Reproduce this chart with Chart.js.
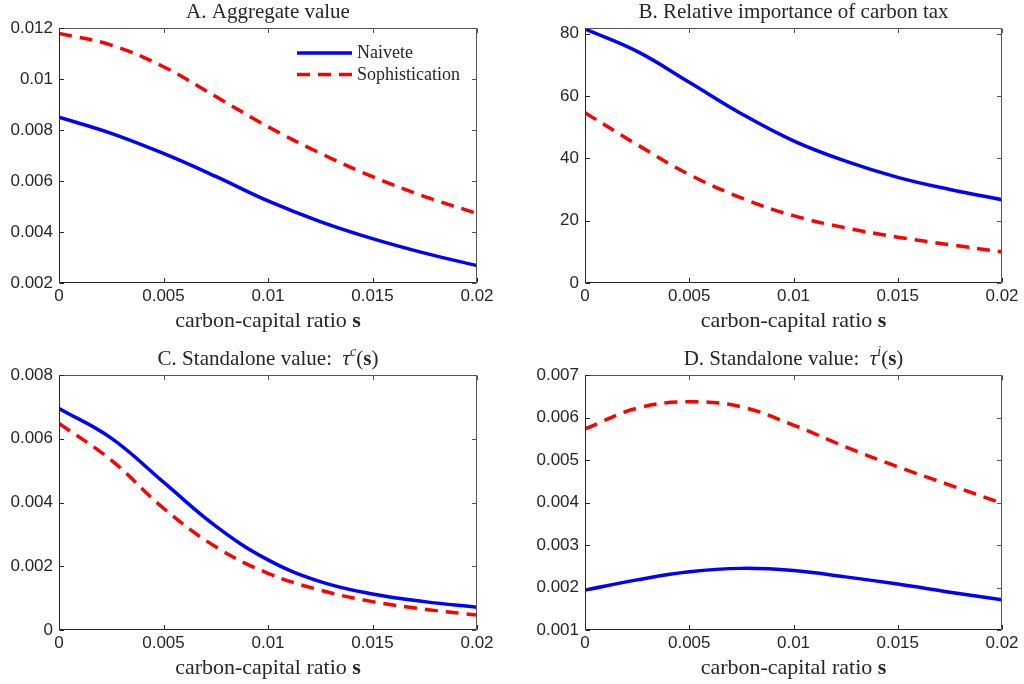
<!DOCTYPE html>
<html>
<head>
<meta charset="utf-8">
<script src="https://cdn.jsdelivr.net/npm/chart.js@4.4.1/dist/chart.umd.min.js"></script>
<style>
  html, body { margin: 0; padding: 0; background: #fff; }
  #wrap { position: relative; width: 1024px; height: 684px; }
  canvas { position: absolute; }
</style>
</head>
<body>
<div id="wrap">
  <canvas id="pA" width="512" height="342" style="left:0;top:0"></canvas>
  <canvas id="pB" width="512" height="342" style="left:512px;top:0"></canvas>
  <canvas id="pC" width="512" height="342" style="left:0;top:342px"></canvas>
  <canvas id="pD" width="512" height="342" style="left:512px;top:342px"></canvas>
</div>
<script>
// carbon-capital ratio s (x values of the sampled curves)
const sGrid = [0, 0.0025, 0.005, 0.0075, 0.01, 0.0125, 0.015, 0.0175, 0.02];
const seriesNames = ['Naivete', 'Sophistication'];

// A. Aggregate value
const aggNaive = [0.0085, 0.00787, 0.00708, 0.00618, 0.00522, 0.00441, 0.00374, 0.00317, 0.00268];
const aggSoph  = [0.01179, 0.01133, 0.01048, 0.00931, 0.00813, 0.00709, 0.00617, 0.00539, 0.00473];
// B. Relative importance of carbon tax
const relNaive = [81.5, 74.3, 64.4, 54.3, 45.6, 39.1, 33.9, 30.0, 26.7];
const relSoph  = [54.6, 44.4, 34.8, 27.3, 21.6, 17.7, 14.7, 12.3, 10.0];
// C. Standalone value tau^c(s)
const tcNaive = [0.00695, 0.00602, 0.00464, 0.00326, 0.0022, 0.00152, 0.00113, 0.00089, 0.00071];
const tcSoph  = [0.00648, 0.00533, 0.00382, 0.00261, 0.00178, 0.00125, 0.00089, 0.00065, 0.00047];
// D. Standalone value tau^i(s)
const tiNaive = [0.00194, 0.00218, 0.00237, 0.00245, 0.0024, 0.00225, 0.00208, 0.00189, 0.00171];
const tiSoph  = [0.00573, 0.00622, 0.00637, 0.00625, 0.00582, 0.00531, 0.00484, 0.00441, 0.00398];

const SERIF = '"Liberation Serif", "DejaVu Serif", serif';
const SANS = '"Liberation Sans", Arial, sans-serif';
const fmt = v => String(parseFloat(Number(v).toFixed(6)));

const xTitle = [
  { t: 'carbon-capital ratio ', f: '22px ' + SERIF },
  { t: 's', f: 'bold 22px ' + SERIF }
];
const texts = {
  pA: { title: [{ t: 'A. Aggregate value', f: '21px ' + SERIF }], legend: true },
  pB: { title: [{ t: 'B. Relative importance of carbon tax', f: '21px ' + SERIF }] },
  pC: { title: [
    { t: 'C. Standalone value:  ', f: '21px ' + SERIF },
    { t: 'τ', f: 'italic 21px ' + SERIF },
    { t: 'c', f: 'italic 14px ' + SERIF, dy: -9 },
    { t: '(', f: '21px ' + SERIF },
    { t: 's', f: 'bold 21px ' + SERIF },
    { t: ')', f: '21px ' + SERIF }
  ] },
  pD: { title: [
    { t: 'D. Standalone value:  ', f: '21px ' + SERIF },
    { t: 'τ', f: 'italic 21px ' + SERIF },
    { t: 'i', f: 'italic 14px ' + SERIF, dy: -9 },
    { t: '(', f: '21px ' + SERIF },
    { t: 's', f: 'bold 21px ' + SERIF },
    { t: ')', f: '21px ' + SERIF }
  ] }
};

function drawRich(ctx, segs, cx, baseY) {
  let w = 0;
  segs.forEach(s => { ctx.font = s.f; w += ctx.measureText(s.t).width; });
  let x = cx - w / 2;
  segs.forEach(s => {
    ctx.font = s.f;
    ctx.fillText(s.t, x, baseY + (s.dy || 0));
    x += ctx.measureText(s.t).width;
  });
}

// box, inward ticks, titles and legend
const frame = {
  id: 'frame',
  afterDraw(chart) {
    const { ctx, chartArea: a, scales: { x, y } } = chart;
    const cfg = texts[chart.canvas.id];
    const L = a.left + 0.5, R = a.right - 0.5, T = a.top + 0.5, B = a.bottom - 0.5;
    const tl = 4.5;
    ctx.save();
    ctx.lineWidth = 1;
    ctx.strokeStyle = '#555';
    ctx.beginPath();
    ctx.moveTo(L, T); ctx.lineTo(R, T); ctx.lineTo(R, B);
    x.ticks.forEach(t => {
      const px = Math.round(x.getPixelForValue(t.value)) + 0.5;
      ctx.moveTo(px, T); ctx.lineTo(px, T + tl);
    });
    y.ticks.forEach(t => {
      const py = Math.round(y.getPixelForValue(t.value)) + 0.5;
      ctx.moveTo(R, py); ctx.lineTo(R - tl, py);
    });
    ctx.stroke();
    ctx.strokeStyle = '#262626';
    ctx.beginPath();
    ctx.moveTo(L, T); ctx.lineTo(L, B); ctx.lineTo(R, B);
    x.ticks.forEach(t => {
      const px = Math.round(x.getPixelForValue(t.value)) + 0.5;
      ctx.moveTo(px, B); ctx.lineTo(px, B - tl);
    });
    y.ticks.forEach(t => {
      const py = Math.round(y.getPixelForValue(t.value)) + 0.5;
      ctx.moveTo(L, py); ctx.lineTo(L + tl, py);
    });
    ctx.stroke();

    ctx.fillStyle = '#262626';
    ctx.textAlign = 'left';
    ctx.textBaseline = 'alphabetic';
    const cx = (a.left + a.right) / 2;
    drawRich(ctx, cfg.title, cx, a.top - 10);
    drawRich(ctx, xTitle, cx, a.bottom + 44);

    if (cfg.legend) {
      chart.data.datasets.forEach((ds, i) => {
        const ly = a.top + 25 + i * 21.5;
        ctx.save();
        ctx.strokeStyle = ds.borderColor;
        ctx.lineWidth = ds.borderWidth;
        ctx.setLineDash(ds.borderDash || []);
        ctx.beginPath();
        ctx.moveTo(a.right - 180, ly);
        ctx.lineTo(a.right - 125, ly);
        ctx.stroke();
        ctx.restore();
        ctx.font = '18px ' + SERIF;
        ctx.fillText(ds.label, a.right - 120, ly + 5);
      });
    }
    ctx.restore();
  }
};

function makePanel(id, naive, soph, yMin, yMax, yStep, pad, yWidth, xHeight) {
  const pts = arr => sGrid.map((s, i) => ({ x: s, y: arr[i] }));
  new Chart(document.getElementById(id), {
    type: 'line',
    data: {
      datasets: [
        { label: seriesNames[0], data: pts(naive), borderColor: '#0000ff', borderWidth: 3.5 },
        { label: seriesNames[1], data: pts(soph), borderColor: '#ff0000', borderWidth: 3.5, borderDash: [13, 8] }
      ]
    },
    options: {
      responsive: false,
      animation: false,
      layout: { padding: { top: pad.top, right: pad.right, left: 0, bottom: 0 } },
      elements: {
        line: { tension: 0.4, fill: false, borderCapStyle: 'butt' },
        point: { radius: 0, hoverRadius: 0 }
      },
      plugins: { legend: { display: false }, tooltip: { enabled: false } },
      scales: {
        x: {
          type: 'linear', min: 0, max: 0.02,
          grid: { display: false, drawTicks: false },
          border: { display: false },
          ticks: { stepSize: 0.005, callback: fmt, color: '#262626', padding: 3,
                   font: { family: SANS, size: 17 }, maxRotation: 0 },
          afterFit: s => { s.height = xHeight; }
        },
        y: {
          min: yMin, max: yMax,
          grid: { display: false, drawTicks: false },
          border: { display: false },
          ticks: { stepSize: yStep, callback: fmt, color: '#262626', padding: 6,
                   includeBounds: false, font: { family: SANS, size: 17 } },
          afterFit: s => { s.width = yWidth; }
        }
      }
    },
    plugins: [frame]
  });
}

makePanel('pA', aggNaive, aggSoph, 0.002, 0.012, 0.002, { top: 28, right: 35 }, 59, 59);
makePanel('pB', relNaive, relSoph, 0, 81.8, 20, { top: 28, right: 22 }, 73, 59);
makePanel('pC', tcNaive, tcSoph, 0, 0.008, 0.002, { top: 33, right: 35 }, 59, 54);
makePanel('pD', tiNaive, tiSoph, 0.001, 0.007, 0.001, { top: 33, right: 22 }, 73, 54);
</script>
</body>
</html>
